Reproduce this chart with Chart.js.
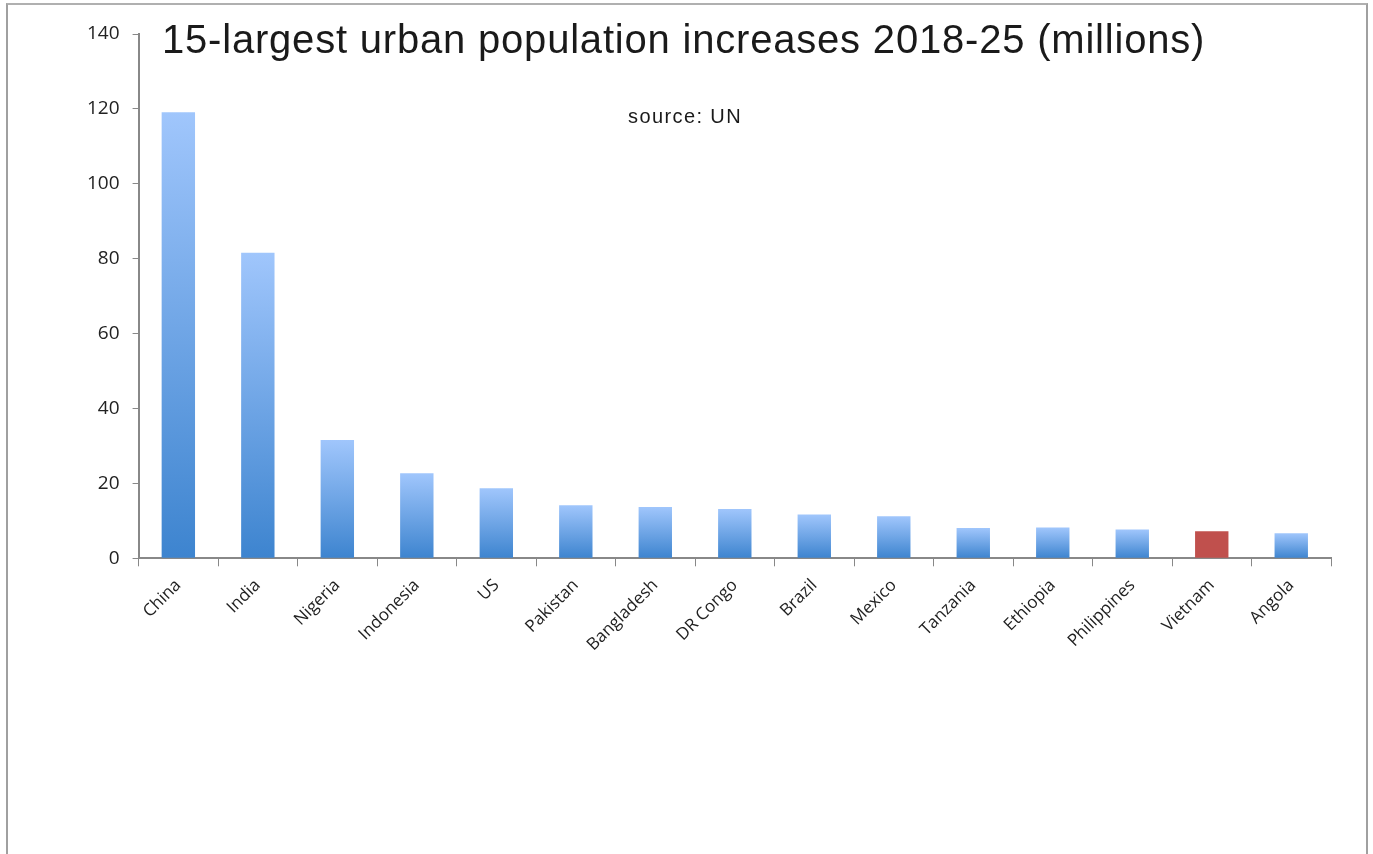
<!DOCTYPE html>
<html>
<head>
    <title>Urban population increases</title>
    <script src="https://cdn.jsdelivr.net/npm/chart.js"></script>
    <style>
        body { margin: 0; background: #fff; }
        #frame {
            position: absolute; left: 6px; top: 3px; width: 1358px; height: 900px;
            border-left: 2px solid #a0a0a0; border-top: 2px solid #b0b0b0; border-right: 2px solid #a0a0a0;
        }
        #wrap { position: absolute; left: 0; top: 0; width: 1373px; height: 854px; }
        #title {
            position: absolute; left: 162px; top: 17px; font-family: "Liberation Sans", Arial, sans-serif;
            font-size: 40px; letter-spacing: 0.8px; color: #1a1a1a; white-space: nowrap;
        }
        #source {
            position: absolute; left: 628px; top: 105px; font-family: "Liberation Sans", Arial, sans-serif;
            font-size: 20px; letter-spacing: 1.4px; color: #1a1a1a; white-space: nowrap;
        }
    </style>
</head>
<body>
    <div id="frame"></div>
    <div id="wrap"><canvas id="urbanChart"></canvas></div>
    <div id="title">15-largest urban population increases 2018-25 (millions)</div>
    <div id="source">source: UN</div>

    <script>
        const countries = ['China', 'India', 'Nigeria', 'Indonesia', 'US', 'Pakistan', 'Bangladesh', 'DR Congo',
            'Brazil', 'Mexico', 'Tanzania', 'Ethiopia', 'Philippines', 'Vietnam', 'Angola'];
        const increases = [119.1, 81.6, 31.6, 22.7, 18.7, 14.2, 13.7, 13.2, 11.7, 11.2, 8.1, 8.2, 7.7, 7.2, 6.7];
        const highlight = 'Vietnam';
        const yTicks = [0, 20, 40, 60, 80, 100, 120, 140];

        function barFill(ctx) {
            const chart = ctx.chart;
            const label = chart.data.labels[ctx.dataIndex];
            if (label === highlight) return '#c0504d';
            const y = chart.scales.y;
            if (!y || !chart.chartArea || ctx.raw === undefined) return '#6fa3e6';
            const top = y.getPixelForValue(ctx.raw);
            const bottom = y.getPixelForValue(0);
            if (!isFinite(top) || !isFinite(bottom)) return '#6fa3e6';
            const g = chart.ctx.createLinearGradient(0, top, 0, bottom);
            g.addColorStop(0, '#a0c6fc');
            g.addColorStop(1, '#3d84cf');
            return g;
        }

        const urbanChart = new Chart(document.getElementById('urbanChart'), {
            type: 'bar',
            data: {
                labels: countries,
                datasets: [{
                    data: increases,
                    backgroundColor: barFill,
                    borderWidth: 0,
                    barPercentage: 0.42,
                    categoryPercentage: 1.0
                }]
            },
            options: {
                responsive: true,
                maintainAspectRatio: false,
                animation: false,
                layout: { padding: { left: 74, right: 42, top: 34, bottom: 190 } },
                plugins: { legend: { display: false }, tooltip: { enabled: false } },
                scales: {
                    x: {
                        offset: true,
                        grid: { offset: true, drawOnChartArea: false, drawTicks: true, tickLength: 8, color: '#888' },
                        border: { color: '#888', width: 2 },
                        ticks: {
                            minRotation: 45, maxRotation: 45, color: '#222',
                            font: { family: 'Open Sans', size: 17 }, padding: 9
                        }
                    },
                    y: {
                        min: 0, max: 140,
                        afterBuildTicks: axis => { axis.ticks = yTicks.map(v => ({ value: v })); },
                        grid: { drawOnChartArea: false, drawTicks: true, tickLength: 6, color: '#888' },
                        border: { color: '#888', width: 2 },
                        ticks: { color: '#222', font: { family: 'Open Sans', size: 19 }, padding: 13 }
                    }
                }
            }
        });
    </script>
</body>
</html>
